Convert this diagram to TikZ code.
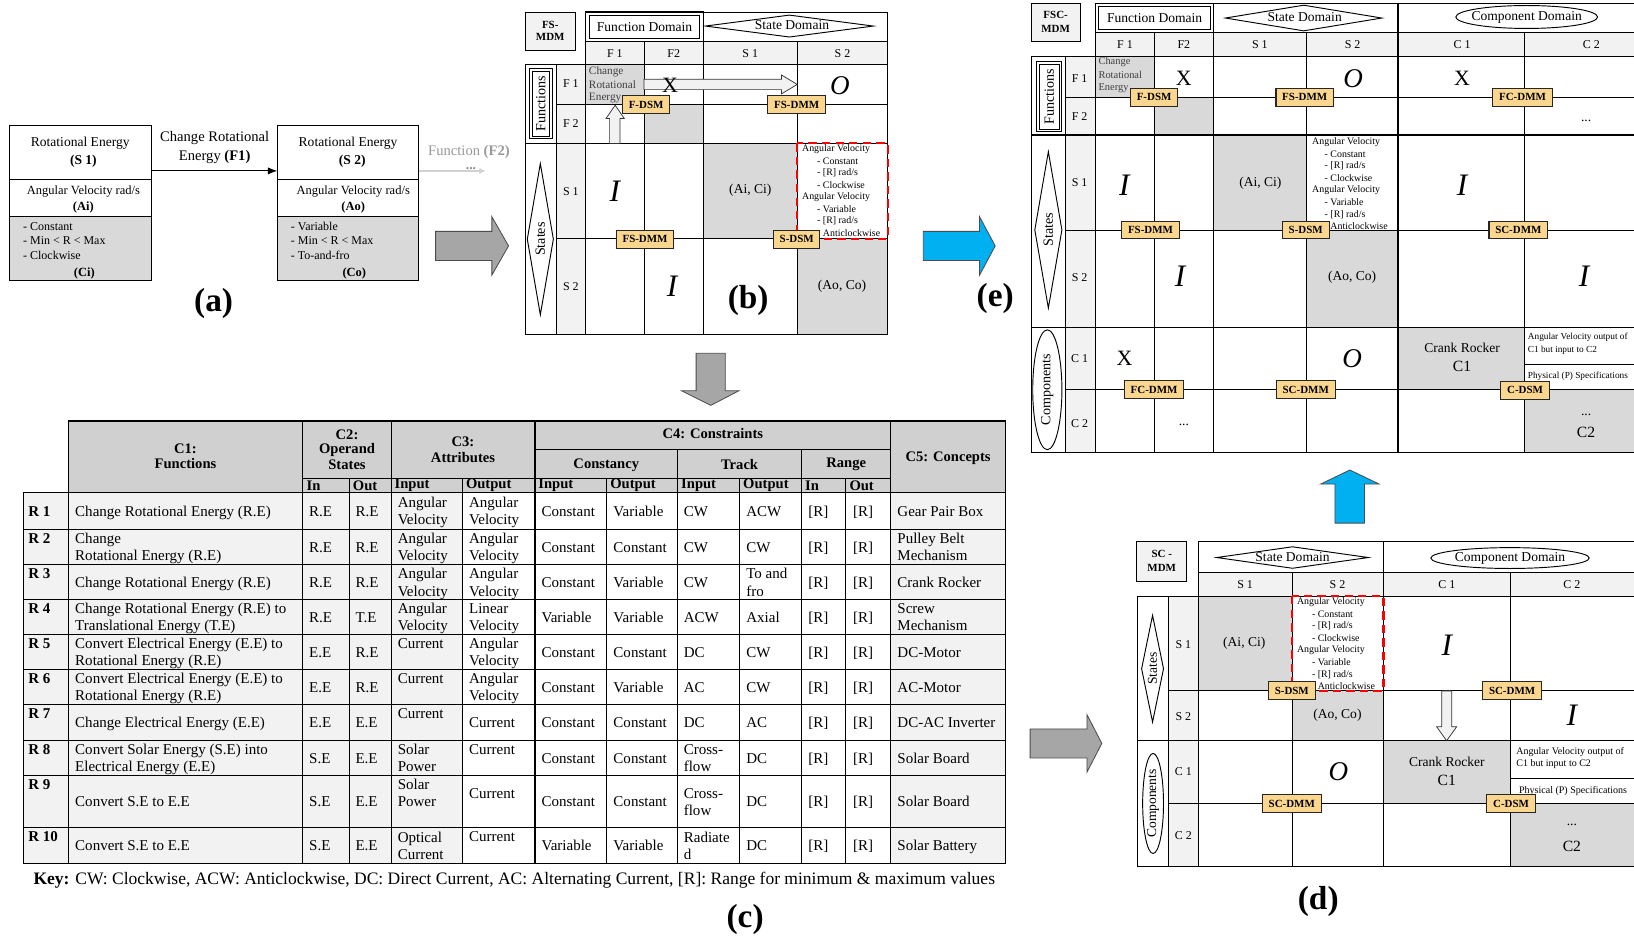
\documentclass[tikz,border=0pt]{standalone}
\usepackage{fontspec}
\setmainfont{Liberation Serif}
\usetikzlibrary{arrows.meta}
\definecolor{lg}{RGB}{242,242,242}
\definecolor{mg}{RGB}{217,217,217}
\definecolor{hg}{RGB}{208,208,208}
\definecolor{dsmc}{RGB}{250,214,142}
\definecolor{ag}{RGB}{166,166,166}
\definecolor{cb}{RGB}{0,176,240}
\newcommand{\fsz}[1]{\fontsize{#1}{#1}\selectfont}
\newcommand{\tc}[3]{\node[tb] at (#1,#2) {#3};}
\begin{document}
\begin{tikzpicture}[x=1pt,y=-1pt,
  gl/.style={line width=0.9pt},
  gk/.style={line width=1.3pt},
  tl/.style={line width=1pt},
  tx/.style={inner sep=0pt},
  tb/.style={inner sep=0pt,anchor=base west,font=\fsz{14.4}},
  hb/.style={inner sep=0pt,font=\fsz{14}\bfseries},
  hs/.style={inner sep=0pt,anchor=west,font=\fsz{14}\bfseries},
  dsml/.style={draw=black!85,line width=1pt,fill=dsmc,inner xsep=6pt,inner ysep=0pt,minimum height=17pt,font=\fsz{10.5}\bfseries},
  bigl/.style={inner sep=0pt,font=\fsz{32}\bfseries},
  hol/.style={draw=black!80,line width=0.7pt,fill=lg},
  bigarrow/.style={draw=black!70,line width=0.8pt,fill=ag},
  bluearrow/.style={draw=black!70,line width=0.8pt,fill=cb},
  redbox/.style={draw=red,line width=2pt,dash pattern=on 8pt off 5pt},
  sm/.style={inner sep=0pt,anchor=west,font=\fsz{9.5}},
  lab/.style={inner sep=0pt,font=\fsz{11.5}},
  dom/.style={inner sep=0pt,font=\fsz{13}},
  bigX/.style={inner sep=0pt,font=\fsz{21}},
  bigO/.style={inner sep=0pt,font=\fsz{26}\itshape},
  bigI/.style={inner sep=0pt,font=\fsz{30}\itshape},
  cell/.style={inner sep=0pt,font=\fsz{13}},
]
\useasboundingbox (0,0) rectangle (1568,903);
\fill[white] (0,0) rectangle (1568,903);

% ================= (a)
\fill[mg] (9,208) rectangle (145,269);
\fill[mg] (266,208) rectangle (402,269);
\node[draw,gl,minimum width=136pt,minimum height=149pt,inner sep=0pt] (sa) at (77,194.5) {};
\node[draw,gl,minimum width=136pt,minimum height=149pt,inner sep=0pt] (sb) at (334,194.5) {};
\draw[gl] (9,172) -- (145,172);
\draw[gl] (9,208) -- (145,208);
\draw[gl] (266,172) -- (402,172);
\draw[gl] (266,208) -- (402,208);
\node[tx,font=\fsz{13}] at (77,137) {Rotational Energy};
\node[tx,font=\fsz{13}\bfseries] at (80,155) {(S 1)};
\node[tx,font=\fsz{12}] at (80,184) {Angular Velocity rad/s};
\node[tx,font=\fsz{12}\bfseries] at (80,199.5) {(Ai)};
\node[tx,font=\fsz{11.5},anchor=west] at (22,217) {- Constant};
\node[tx,font=\fsz{11.5},anchor=west] at (22,230.5) {- Min < R < Max};
\node[tx,font=\fsz{11.5},anchor=west] at (22,245) {- Clockwise};
\node[tx,font=\fsz{12}\bfseries] at (81,262) {(Ci)};
\node[tx,font=\fsz{13}] at (334,137) {Rotational Energy};
\node[tx,font=\fsz{13}\bfseries] at (338,155) {(S 2)};
\node[tx,font=\fsz{12}] at (339,184) {Angular Velocity rad/s};
\node[tx,font=\fsz{12}\bfseries] at (339,199.5) {(Ao)};
\node[tx,font=\fsz{11.5},anchor=west] at (279,217) {- Variable};
\node[tx,font=\fsz{11.5},anchor=west] at (279,230.5) {- Min < R < Max};
\node[tx,font=\fsz{11.5},anchor=west] at (279,245) {- To-and-fro};
\node[tx,font=\fsz{12}\bfseries] at (340,262) {(Co)};
\coordinate (sae) at (145,164);
\coordinate (sbw) at (266,164);
\coordinate (sbe) at (402,164);
\coordinate (fend) at (466,164);
\draw[gl,-{Latex[length=9pt,width=7pt]}] (sae) -- (sbw);
\node[tx,font=\fsz{14}] at (206,132) {Change Rotational};
\node[tx,font=\fsz{14}] at (206,151) {Energy \textbf{(F1)}};
\draw[line width=1.6pt,draw=black!18,-{Latex[length=6pt,width=6pt]}] (sbe) -- (fend);
\node[tx,font=\fsz{13}\bfseries,text=black!45] at (452,162) {...};
\node[tx,font=\fsz{14},text=black!40] at (450,146) {Function \textbf{(F2)}};
\node[bigl] at (205,291) {(a)};

% ================= big arrows
\draw[bigarrow] (418,222) -- (472,222) -- (472,208) -- (488,236) -- (472,264) -- (472,250) -- (418,250) -- cycle;
\draw[bluearrow] (886,222) -- (940,222) -- (940,208) -- (955,236) -- (940,264) -- (940,250) -- (886,250) -- cycle;
\draw[bigarrow] (668,339) -- (696,339) -- (696,375) -- (709,375) -- (682,389) -- (654,375) -- (668,375) -- cycle;
\draw[bigarrow] (988.5,699.5) -- (1043,699.5) -- (1043,685.7) -- (1057.3,713.4) -- (1043,741) -- (1043,727.3) -- (988.5,727.3) -- cycle;
\draw[bluearrow] (1281,502) -- (1281,464.5) -- (1267.4,464.5) -- (1295.3,451) -- (1323.4,464.5) -- (1309.3,464.5) -- (1309.3,502) -- cycle;

% ================= (b)
\fill[lg] (504,11.5) rectangle (552,48);
\draw[gl] (504,11.5) rectangle (552,48);
\node[tx,font=\fsz{10.5}\bfseries] at (528,23.5) {FS-};
\node[tx,font=\fsz{10.5}\bfseries] at (528,35.5) {MDM};
\fill[lg] (562,40) rectangle (852,62);
\fill[lg] (533.6,62) rectangle (562,321);
\fill[mg] (562,62) rectangle (618,100);
\fill[mg] (618,100) rectangle (675,137.6);
\fill[mg] (675,137.6) rectangle (765,229);
\fill[mg] (765,229) rectangle (852,321);
\draw[gl] (562,11.5) rectangle (852,62);
\draw[gl] (562,40) -- (852,40);
\draw[gk] (562,11.5) rectangle (675,40);
\draw[gl] (566,14.5) rectangle (671,37);
\draw[gl] (504,62) rectangle (852,321);
\draw[gl] (533.6,62) -- (533.6,321);
\draw[gl] (562,62) -- (562,321);
\draw[gl] (533.6,100) -- (852,100);
\draw[gk] (504,137.6) -- (852,137.6);
\draw[gl] (533.6,229) -- (852,229);
\draw[gl] (618,40) -- (618,321);
\draw[gk] (675,11.5) -- (675,321);
\draw[gl] (765,40) -- (765,321);
\node[dom] at (618.5,25.7) {Function Domain};
\draw[gl] (677,25) -- (757.5,14.5) -- (838,25) -- (757.5,35.5) -- cycle;
\node[dom] at (760,24.5) {State Domain};
\node[lab] at (590,51) {F 1};
\node[lab] at (646.5,51) {F2};
\node[lab] at (720,51) {S 1};
\node[lab] at (808.5,51) {S 2};
\node[lab] at (547.8,80.5) {F 1};
\node[lab] at (547.8,119) {F 2};
\node[lab] at (547.8,184) {S 1};
\node[lab] at (547.8,275) {S 2};
\draw[gl] (508,66) rectangle (530,133);
\draw[gl] (510.5,68.5) rectangle (527.5,130.5);
\node[tx,rotate=90,font=\fsz{13.5}] at (519,99.5) {Functions};
\draw[gl] (518.5,157) -- (531,229.5) -- (518.5,302) -- (506,229.5) -- cycle;
\node[tx,rotate=90,font=\fsz{13.5}] at (518.5,229.5) {States};
\node[tx,anchor=west,font=\fsz{10.8},text=black!75] at (565,69) {Change};
\node[tx,anchor=west,font=\fsz{10.8},text=black!75] at (565,81.5) {Rotational};
\node[tx,anchor=west,font=\fsz{10.8},text=black!75] at (565,94) {Energy};
\draw[hol] (618,76) -- (750,76) -- (750,72) -- (765,81) -- (750,90) -- (750,86) -- (618,86) -- cycle;
\draw[hol] (585,137.6) -- (585,113.6) -- (581.6,113.6) -- (590.3,101) -- (599,113.6) -- (595,113.6) -- (595,137.6) -- cycle;
\node[bigX] at (643,82) {X};
\node[bigO] at (806,82) {O};
\node[bigI] at (590,184) {I};
\node[bigI] at (645,275) {I};
\node[cell] at (720,183) {(Ai, Ci)};
\node[cell] at (808,275) {(Ao, Co)};
\node[sm] at (769.5,143) {Angular Velocity};
\node[sm] at (784,154.5) {- Constant};
\node[sm] at (784,166) {- [R] rad/s};
\node[sm] at (784,177.5) {- Clockwise};
\node[sm] at (769.5,189) {Angular Velocity};
\node[sm] at (784,200.6) {- Variable};
\node[sm] at (784,212) {- [R] rad/s};
\node[sm] at (784,223.6) {- Anticlockwise};
\draw[redbox] (765,137.6) rectangle (852,229);
\node[dsml] (bfdsm) at (620,100.5) {F-DSM};
\node[dsml] (bfsdmma) at (764.5,100.5) {FS-DMM};
\node[dsml] (bfsdmmb) at (619,229.5) {FS-DMM};
\node[dsml] (bsdsm) at (764.5,229.5) {S-DSM};
\node[bigl] at (718,288) {(b)};

% ================= (e)
\fill[lg] (989.4,3.2) rectangle (1037,40);
\draw[gl] (989.4,3.2) rectangle (1037,40);
\node[tx,font=\fsz{10.5}\bfseries] at (1013,14.5) {FSC-};
\node[tx,font=\fsz{10.5}\bfseries] at (1013,27.5) {MDM};
\fill[lg] (1051,31.4) rectangle (1575,54.4);
\fill[lg] (1022,54.4) rectangle (1051,434.6);
\fill[mg] (1051,54.4) rectangle (1108,93.4);
\fill[mg] (1108,93.4) rectangle (1164.5,129.6);
\fill[mg] (1164.5,129.6) rectangle (1254,220.7);
\fill[mg] (1254,220.7) rectangle (1341.5,314);
\fill[mg] (1341.5,314) rectangle (1463,374);
\fill[mg] (1463,374) rectangle (1575,434.6);
\draw[gl] (1575,3.2) -- (1051,3.2) -- (1051,54.4);
\draw[gl] (1051,31.4) -- (1575,31.4);
\draw[gk] (1051,3.2) rectangle (1164.5,31.4);
\draw[gl] (1054,6) rectangle (1161.5,28.6);
\draw[gl] (1575,434.6) -- (989.4,434.6) -- (989.4,54.4) -- (1575,54.4);
\draw[gl] (1022,54.4) -- (1022,434.6);
\draw[gl] (1051,54.4) -- (1051,434.6);
\draw[gl] (1022,93.4) -- (1575,93.4);
\draw[gk] (989.4,129.6) -- (1575,129.6);
\draw[gl] (1022,220.7) -- (1575,220.7);
\draw[gk] (989.4,314) -- (1575,314);
\draw[gl] (1022,374) -- (1575,374);
\draw[gl] (1463,350) -- (1575,350);
\draw[gl] (1108,31.4) -- (1108,434.6);
\draw[gk] (1164.5,3.2) -- (1164.5,434.6);
\draw[gl] (1254,31.4) -- (1254,434.6);
\draw[gk] (1341.5,3.2) -- (1341.5,434.6);
\draw[gl] (1463,31.4) -- (1463,434.6);
\node[dom] at (1108,17.3) {Function Domain};
\draw[gl] (1176,17.3) -- (1251,5) -- (1326,17.3) -- (1251,29.6) -- cycle;
\node[dom] at (1252,16.5) {State Domain};
\draw[gl] (1465,16.3) ellipse [x radius=68pt, y radius=11pt];
\node[dom] at (1465,16.3) {Component Domain};
\node[lab] at (1079.5,43) {F 1};
\node[lab] at (1136,43) {F2};
\node[lab] at (1209,43) {S 1};
\node[lab] at (1298,43) {S 2};
\node[lab] at (1403,43) {C 1};
\node[lab] at (1527,43) {C 2};
\node[lab] at (1036,75.5) {F 1};
\node[lab] at (1036,112) {F 2};
\node[lab] at (1036,175) {S 1};
\node[lab] at (1036,266) {S 2};
\node[lab] at (1036,344) {C 1};
\node[lab] at (1036,406) {C 2};
\draw[gl] (995,59) rectangle (1019,126.4);
\draw[gl] (997.5,61.5) rectangle (1016.5,123.9);
\node[tx,rotate=90,font=\fsz{13.5}] at (1007,92.7) {Functions};
\draw[gl] (1006,145.6) -- (1019,220.6) -- (1006,295.6) -- (993,220.6) -- cycle;
\node[tx,rotate=90,font=\fsz{13.5}] at (1006,220.6) {States};
\draw[gl] (1005,374) ellipse [x radius=14pt, y radius=57.5pt];
\node[tx,rotate=90,font=\fsz{13.5}] at (1005,374) {Components};
\node[tx,anchor=west,font=\fsz{10},text=black!75] at (1054,59.5) {Change};
\node[tx,anchor=west,font=\fsz{10},text=black!75] at (1054,72) {Rotational};
\node[tx,anchor=west,font=\fsz{10},text=black!75] at (1054,84.5) {Energy};
\node[bigX] at (1136,75) {X};
\node[bigO] at (1298.5,75) {O};
\node[bigX] at (1403,75) {X};
\node[cell] at (1522,116) {...};
\node[bigI] at (1079,177.5) {I};
\node[cell] at (1209.5,176) {(Ai, Ci)};
\node[sm] at (1259,136) {Angular Velocity};
\node[sm] at (1271,147.6) {- Constant};
\node[sm] at (1271,159.2) {- [R] rad/s};
\node[sm] at (1271,170.8) {- Clockwise};
\node[sm] at (1259,182.4) {Angular Velocity};
\node[sm] at (1271,194) {- Variable};
\node[sm] at (1271,205.6) {- [R] rad/s};
\node[sm] at (1271,217.2) {- Anticlockwise};
\node[bigI] at (1403,177.5) {I};
\node[bigI] at (1132.5,265.5) {I};
\node[cell] at (1297.5,266) {(Ao, Co)};
\node[bigI] at (1520,265.5) {I};
\node[bigX] at (1079,344) {X};
\node[bigO] at (1297.5,344) {O};
\node[cell] at (1403,334) {Crank Rocker};
\node[tx,font=\fsz{15}] at (1403,352) {C1};
\node[tx,anchor=west,font=\fsz{8.9}] at (1466,324) {Angular Velocity output of};
\node[tx,anchor=west,font=\fsz{8.9}] at (1466,336) {C1 but input to C2};
\node[tx,anchor=west,font=\fsz{8.9}] at (1466,361) {Physical (P) Specifications};
\node[cell] at (1136,408) {...};
\node[cell] at (1522,398) {...};
\node[tx,font=\fsz{15}] at (1522,414.6) {C2};
\node[dsml] (efdsm) at (1107.5,93.4) {F-DSM};
\node[dsml] (efsdmma) at (1252,93.4) {FS-DMM};
\node[dsml] (efcdmma) at (1461,93.4) {FC-DMM};
\node[dsml] (efsdmmb) at (1104,220.7) {FS-DMM};
\node[dsml] (esdsm) at (1253,220.7) {S-DSM};
\node[dsml] (escdmma) at (1457,220.7) {SC-DMM};
\node[dsml] (efcdmmb) at (1107.5,374) {FC-DMM};
\node[dsml] (escdmmb) at (1253,374) {SC-DMM};
\node[dsml] (ecdsm) at (1463.5,374.5) {C-DSM};
\node[bigl] at (955,286) {(e)};

% ================= (d)
\fill[lg] (1090.8,519.8) rectangle (1138.8,558);
\draw[gl] (1090.8,519.8) rectangle (1138.8,558);
\node[tx,font=\fsz{10.5}\bfseries] at (1114.8,532) {SC -};
\node[tx,font=\fsz{10.5}\bfseries] at (1114.8,545.4) {MDM};
\fill[lg] (1150,549) rectangle (1575,572);
\fill[lg] (1121,572) rectangle (1150,831.6);
\fill[mg] (1150,572) rectangle (1240,663);
\fill[mg] (1240,663) rectangle (1327.6,710.8);
\fill[mg] (1327.6,710.8) rectangle (1449,770.9);
\fill[mg] (1449,770.9) rectangle (1575,831.6);
\draw[gl] (1575,519.8) -- (1150,519.8) -- (1150,572);
\draw[gl] (1150,549) -- (1575,549);
\draw[gl] (1575,831.6) -- (1091.5,831.6) -- (1091.5,572) -- (1575,572);
\draw[gl] (1121,572) -- (1121,831.6);
\draw[gl] (1150,572) -- (1150,831.6);
\draw[gl] (1121,663) -- (1575,663);
\draw[gk] (1091.5,710.8) -- (1575,710.8);
\draw[gl] (1121,770.9) -- (1575,770.9);
\draw[gl] (1449,747) -- (1575,747);
\draw[gl] (1240,549) -- (1240,831.6);
\draw[gk] (1327.6,519.8) -- (1327.6,831.6);
\draw[gl] (1449,549) -- (1449,831.6);
\draw[gl] (1167.6,535) -- (1240.3,524.7) -- (1313,535) -- (1240.3,545.3) -- cycle;
\node[dom] at (1240.3,534.5) {State Domain};
\draw[gl] (1449,535.5) ellipse [x radius=76pt, y radius=10pt];
\node[dom] at (1449,535.5) {Component Domain};
\node[lab] at (1194.8,560.5) {S 1};
\node[lab] at (1283.4,560.5) {S 2};
\node[lab] at (1388.4,560.5) {C 1};
\node[lab] at (1508.4,560.5) {C 2};
\node[lab] at (1135.6,618.4) {S 1};
\node[lab] at (1135.6,688) {S 2};
\node[lab] at (1135.6,740.6) {C 1};
\node[lab] at (1135.6,801.4) {C 2};
\draw[gl] (1106,590.5) -- (1116.5,641.7) -- (1106,692.9) -- (1095.5,641.7) -- cycle;
\node[tx,rotate=90,font=\fsz{13}] at (1106,641.7) {States};
\draw[gl] (1106.5,771) ellipse [x radius=10pt, y radius=48pt];
\node[tx,rotate=90,font=\fsz{13}] at (1106.5,771) {Components};
\node[cell] at (1194,617) {(Ai, Ci)};
\node[sm] at (1244.4,577.4) {Angular Velocity};
\node[sm] at (1258.8,589) {- Constant};
\node[sm] at (1258.8,600.6) {- [R] rad/s};
\node[sm] at (1258.8,612.2) {- Clockwise};
\node[sm] at (1244.4,623.8) {Angular Velocity};
\node[sm] at (1258.8,635.4) {- Variable};
\node[sm] at (1258.8,647) {- [R] rad/s};
\node[sm] at (1258.8,658.6) {- Anticlockwise};
\draw[redbox] (1240,572) rectangle (1327.6,663);
\node[bigI] at (1388.4,619) {I};
\node[cell] at (1283.4,686) {(Ao, Co)};
\node[bigI] at (1508.4,686.6) {I};
\draw[hol] (1383.5,663) -- (1383.5,697.4) -- (1378.6,697.4) -- (1388.2,710.8) -- (1397.8,697.4) -- (1393,697.4) -- (1393,663) -- cycle;
\node[bigO] at (1284.4,740) {O};
\node[cell] at (1388.4,731) {Crank Rocker};
\node[tx,font=\fsz{15}] at (1388.4,748.6) {C1};
\node[tx,anchor=west,font=\fsz{9.6}] at (1455,722) {Angular Velocity output of};
\node[tx,anchor=west,font=\fsz{9.6}] at (1455,733.3) {C1 but input to C2};
\node[tx,anchor=west,font=\fsz{9.6}] at (1457.6,758.8) {Physical (P) Specifications};
\node[cell] at (1508.4,792) {...};
\node[tx,font=\fsz{15}] at (1508.4,812) {C2};
\node[dsml] (dsdsm) at (1239.6,662.7) {S-DSM};
\node[dsml] (dscdmma) at (1451,662.7) {SC-DMM};
\node[dsml] (dscdmmb) at (1239.6,771) {SC-DMM};
\node[dsml] (dcdsm) at (1450,771) {C-DSM};
\node[bigl] at (1265,865) {(d)};

% ================= (c) table
\fill[hg] (65.6,404) rectangle (965,473);
\fill[lg] (23,473) rectangle (443.8,828.6);
\fill[lg] (854.6,473) rectangle (965,828.6);
\draw[tl] (65.6,404) rectangle (965,828.6);
\draw[tl] (23,473) rectangle (65.6,828.6);
\foreach \yy in {473,508,542,575.6,608.7,642.4,676,710.2,744.2,794}
  \draw[tl] (23,\yy) -- (965,\yy);
\foreach \xx in {290.5,375.3,513.4,854.6}
  \draw[tl] (\xx,404) -- (\xx,828.6);
\foreach \xx in {650.3,769.2}
  \draw[tl] (\xx,431) -- (\xx,828.6);
\foreach \xx in {335.3,443.8,582.2,710,811.5}
  \draw[tl] (\xx,459) -- (\xx,828.6);
\draw[tl] (290.5,459) -- (854.6,459);
\draw[tl] (513.4,431) -- (854.6,431);
\node[hb] at (178,430.3) {C1:};
\node[hb] at (178,444.7) {Functions};
\node[hb] at (333,417.4) {C2:};
\node[hb] at (333,431.8) {Operand};
\node[hb] at (333,446.2) {States};
\node[hb] at (444.3,424) {C3:};
\node[hb] at (444.3,439.3) {Attributes};
\node[hb] at (684,416) {C4: Constraints};
\node[hb] at (581.8,446) {Constancy};
\node[hb] at (709.7,446) {Track};
\node[hb] at (812,446) {Range};
\node[hb] at (909.8,439.3) {C5: Concepts};
\node[hs] at (294,466) {In};
\node[hs] at (338.5,466) {Out};
\node[hs] at (378.5,466) {Input};
\node[hs] at (447,466) {Output};
\node[hs] at (516.5,466) {Input};
\node[hs] at (585.5,466) {Output};
\node[hs] at (653.5,466) {Input};
\node[hs] at (713,466) {Output};
\node[hs] at (772.5,466) {In};
\node[hs] at (815,466) {Out};
% R1
\tc{27}{495.5}{\textbf{R 1}}
\tc{72}{495.5}{Change Rotational Energy (R.E)}
\tc{296.5}{495.5}{R.E}\tc{341}{495.5}{R.E}
\tc{381.5}{487.3}{Angular}\tc{381.5}{503.7}{Velocity}
\tc{450}{487.3}{Angular}\tc{450}{503.7}{Velocity}
\tc{519.5}{495.5}{Constant}\tc{588.5}{495.5}{Variable}\tc{656}{495.5}{CW}\tc{716}{495.5}{ACW}
\tc{775.5}{495.5}{[R]}\tc{818.5}{495.5}{[R]}\tc{861}{495.5}{Gear Pair Box}
% R2
\tc{27}{521.5}{\textbf{R 2}}
\tc{72}{521.8}{Change}\tc{72}{538.2}{Rotational Energy (R.E)}
\tc{296.5}{530}{R.E}\tc{341}{530}{R.E}
\tc{381.5}{521.8}{Angular}\tc{381.5}{538.2}{Velocity}
\tc{450}{521.8}{Angular}\tc{450}{538.2}{Velocity}
\tc{519.5}{530}{Constant}\tc{588.5}{530}{Constant}\tc{656}{530}{CW}\tc{716}{530}{CW}
\tc{775.5}{530}{[R]}\tc{818.5}{530}{[R]}
\tc{861}{521.8}{Pulley Belt}\tc{861}{538.2}{Mechanism}
% R3
\tc{27}{555.5}{\textbf{R 3}}
\tc{72}{563.8}{Change Rotational Energy (R.E)}
\tc{296.5}{563.8}{R.E}\tc{341}{563.8}{R.E}
\tc{381.5}{555.6}{Angular}\tc{381.5}{572}{Velocity}
\tc{450}{555.6}{Angular}\tc{450}{572}{Velocity}
\tc{519.5}{563.8}{Constant}\tc{588.5}{563.8}{Variable}\tc{656}{563.8}{CW}
\tc{716}{555.6}{To and}\tc{716}{572}{fro}
\tc{775.5}{563.8}{[R]}\tc{818.5}{563.8}{[R]}\tc{861}{563.8}{Crank Rocker}
% R4
\tc{27}{589}{\textbf{R 4}}
\tc{72}{589}{Change Rotational Energy (R.E) to}\tc{72}{605.4}{Translational Energy (T.E)}
\tc{296.5}{597.2}{R.E}\tc{341}{597.2}{T.E}
\tc{381.5}{589}{Angular}\tc{381.5}{605.4}{Velocity}
\tc{450}{589}{Linear}\tc{450}{605.4}{Velocity}
\tc{519.5}{597.2}{Variable}\tc{588.5}{597.2}{Variable}\tc{656}{597.2}{ACW}\tc{716}{597.2}{Axial}
\tc{775.5}{597.2}{[R]}\tc{818.5}{597.2}{[R]}
\tc{861}{589}{Screw}\tc{861}{605.4}{Mechanism}
% R5
\tc{27}{622.2}{\textbf{R 5}}
\tc{72}{622.3}{Convert Electrical Energy (E.E) to}\tc{72}{638.7}{Rotational Energy (R.E)}
\tc{296.5}{630.5}{E.E}\tc{341}{630.5}{R.E}
\tc{381.5}{622.2}{Current}
\tc{450}{622.3}{Angular}\tc{450}{638.7}{Velocity}
\tc{519.5}{630.5}{Constant}\tc{588.5}{630.5}{Constant}\tc{656}{630.5}{DC}\tc{716}{630.5}{CW}
\tc{775.5}{630.5}{[R]}\tc{818.5}{630.5}{[R]}\tc{861}{630.5}{DC-Motor}
% R6
\tc{27}{655.9}{\textbf{R 6}}
\tc{72}{656}{Convert Electrical Energy (E.E) to}\tc{72}{672.4}{Rotational Energy (R.E)}
\tc{296.5}{664.2}{E.E}\tc{341}{664.2}{R.E}
\tc{381.5}{655.9}{Current}
\tc{450}{656}{Angular}\tc{450}{672.4}{Velocity}
\tc{519.5}{664.2}{Constant}\tc{588.5}{664.2}{Variable}\tc{656}{664.2}{AC}\tc{716}{664.2}{CW}
\tc{775.5}{664.2}{[R]}\tc{818.5}{664.2}{[R]}\tc{861}{664.2}{AC-Motor}
% R7
\tc{27}{689.5}{\textbf{R 7}}
\tc{72}{698.1}{Change Electrical Energy (E.E)}
\tc{296.5}{698.1}{E.E}\tc{341}{698.1}{E.E}
\tc{381.5}{689.5}{Current}\tc{450}{698.1}{Current}
\tc{519.5}{698.1}{Constant}\tc{588.5}{698.1}{Constant}\tc{656}{698.1}{DC}\tc{716}{698.1}{AC}
\tc{775.5}{698.1}{[R]}\tc{818.5}{698.1}{[R]}\tc{861}{698.1}{DC-AC Inverter}
% R8
\tc{27}{723.7}{\textbf{R 8}}
\tc{72}{724}{Convert Solar Energy (S.E) into}\tc{72}{740.4}{Electrical Energy (E.E)}
\tc{296.5}{732.2}{S.E}\tc{341}{732.2}{E.E}
\tc{381.5}{724}{Solar}\tc{381.5}{740.4}{Power}
\tc{450}{723.7}{Current}
\tc{519.5}{732.2}{Constant}\tc{588.5}{732.2}{Constant}
\tc{656}{724}{Cross-}\tc{656}{740.4}{flow}
\tc{716}{732.2}{DC}\tc{775.5}{732.2}{[R]}\tc{818.5}{732.2}{[R]}\tc{861}{732.2}{Solar Board}
% R9
\tc{27}{757.7}{\textbf{R 9}}
\tc{72}{774.1}{Convert S.E to E.E}
\tc{296.5}{774.1}{S.E}\tc{341}{774.1}{E.E}
\tc{381.5}{757.7}{Solar}\tc{381.5}{774.1}{Power}
\tc{450}{766.4}{Current}
\tc{519.5}{774.1}{Constant}\tc{588.5}{774.1}{Constant}
\tc{656}{765.9}{Cross-}\tc{656}{782.3}{flow}
\tc{716}{774.1}{DC}\tc{775.5}{774.1}{[R]}\tc{818.5}{774.1}{[R]}\tc{861}{774.1}{Solar Board}
% R10
\tc{27}{807.5}{\textbf{R 10}}
\tc{72}{816.3}{Convert S.E to E.E}
\tc{296.5}{816.3}{S.E}\tc{341}{816.3}{E.E}
\tc{381.5}{808.1}{Optical}\tc{381.5}{824.5}{Current}
\tc{450}{807.5}{Current}
\tc{519.5}{816.3}{Variable}\tc{588.5}{816.3}{Variable}
\tc{656}{808.1}{Radiate}\tc{656}{824.5}{d}
\tc{716}{816.3}{DC}\tc{775.5}{816.3}{[R]}\tc{818.5}{816.3}{[R]}\tc{861}{816.3}{Solar Battery}
\node[tx,anchor=base west,font=\fsz{16.8}] (key) at (32,849) {\textbf{Key:} CW: Clockwise, ACW: Anticlockwise, DC: Direct Current, AC: Alternating Current, [R]: Range for minimum \& maximum values};
\node[bigl] at (715,882) {(c)};
\end{tikzpicture}
\end{document}
